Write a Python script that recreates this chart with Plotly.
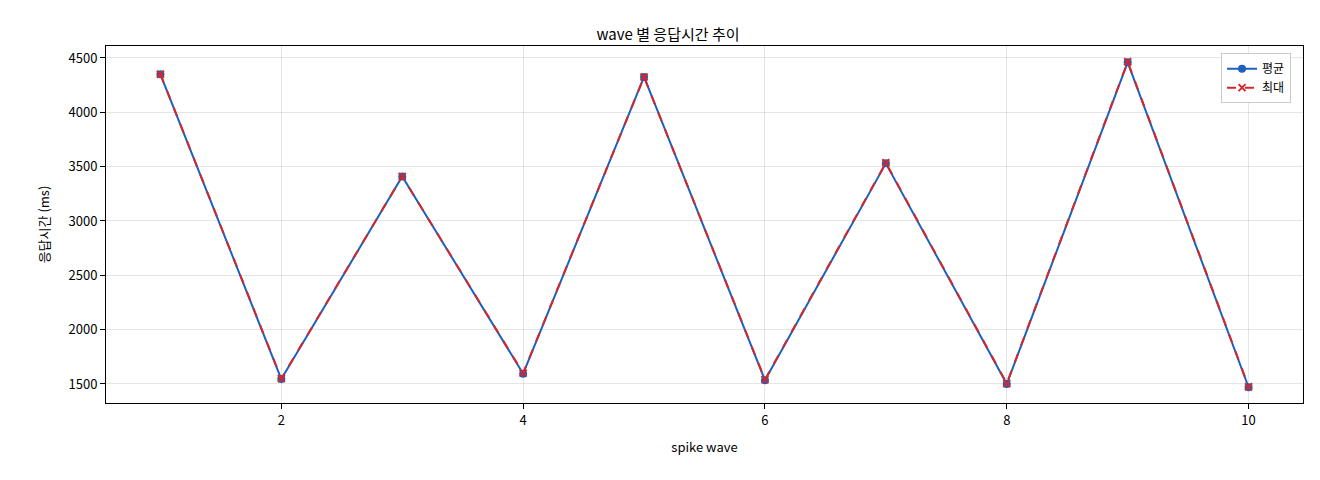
import plotly.graph_objects as go

waves = [1, 2, 3, 4, 5, 6, 7, 8, 9, 10]
avg_ms = [4350, 1545, 3410, 1595, 4325, 1535, 3530, 1500, 4460, 1470]
max_ms = [4350, 1550, 3410, 1600, 4325, 1540, 3535, 1505, 4465, 1475]

font = "Noto Sans CJK KR"

fig = go.Figure()
fig.add_trace(go.Scatter(x=waves, y=avg_ms, mode="lines+markers", name="평균",
                         line=dict(color="#1f5fbf", width=2),
                         marker=dict(symbol="circle", size=8, color="#1f5fbf")))
fig.add_trace(go.Scatter(x=waves, y=max_ms, mode="lines+markers", name="최대",
                         line=dict(color="#d62728", width=2, dash="dash"),
                         marker=dict(symbol="x-thin", size=7, color="#d62728",
                                     line=dict(color="#d62728", width=2))))

axis = dict(showline=True, linecolor="black", mirror=True, ticks="outside",
            tickcolor="black", gridcolor="rgba(0,0,0,0.1)", zeroline=False,
            tickfont=dict(size=13, color="black"))

fig.update_layout(
    width=1320, height=480,
    paper_bgcolor="white", plot_bgcolor="white",
    font=dict(family=font, color="black"),
    title=dict(text="wave 별 응답시간 추이", x=0.5, xanchor="center",
               y=0.955, font=dict(size=15)),
    margin=dict(l=98, r=25, t=38, b=85),
    xaxis=dict(axis, range=[0.55, 10.45], tickvals=[2, 4, 6, 8, 10],
               title=dict(text="spike wave", font=dict(size=13))),
    yaxis=dict(axis, range=[1325, 4610], dtick=500,
               title=dict(text="응답시간 (ms)", font=dict(size=13))),
    legend=dict(x=0.99, y=0.98, xanchor="right", yanchor="top",
                bordercolor="#ccc", borderwidth=1, bgcolor="white",
                font=dict(size=12)),
)

fig.write_html("out.html")
